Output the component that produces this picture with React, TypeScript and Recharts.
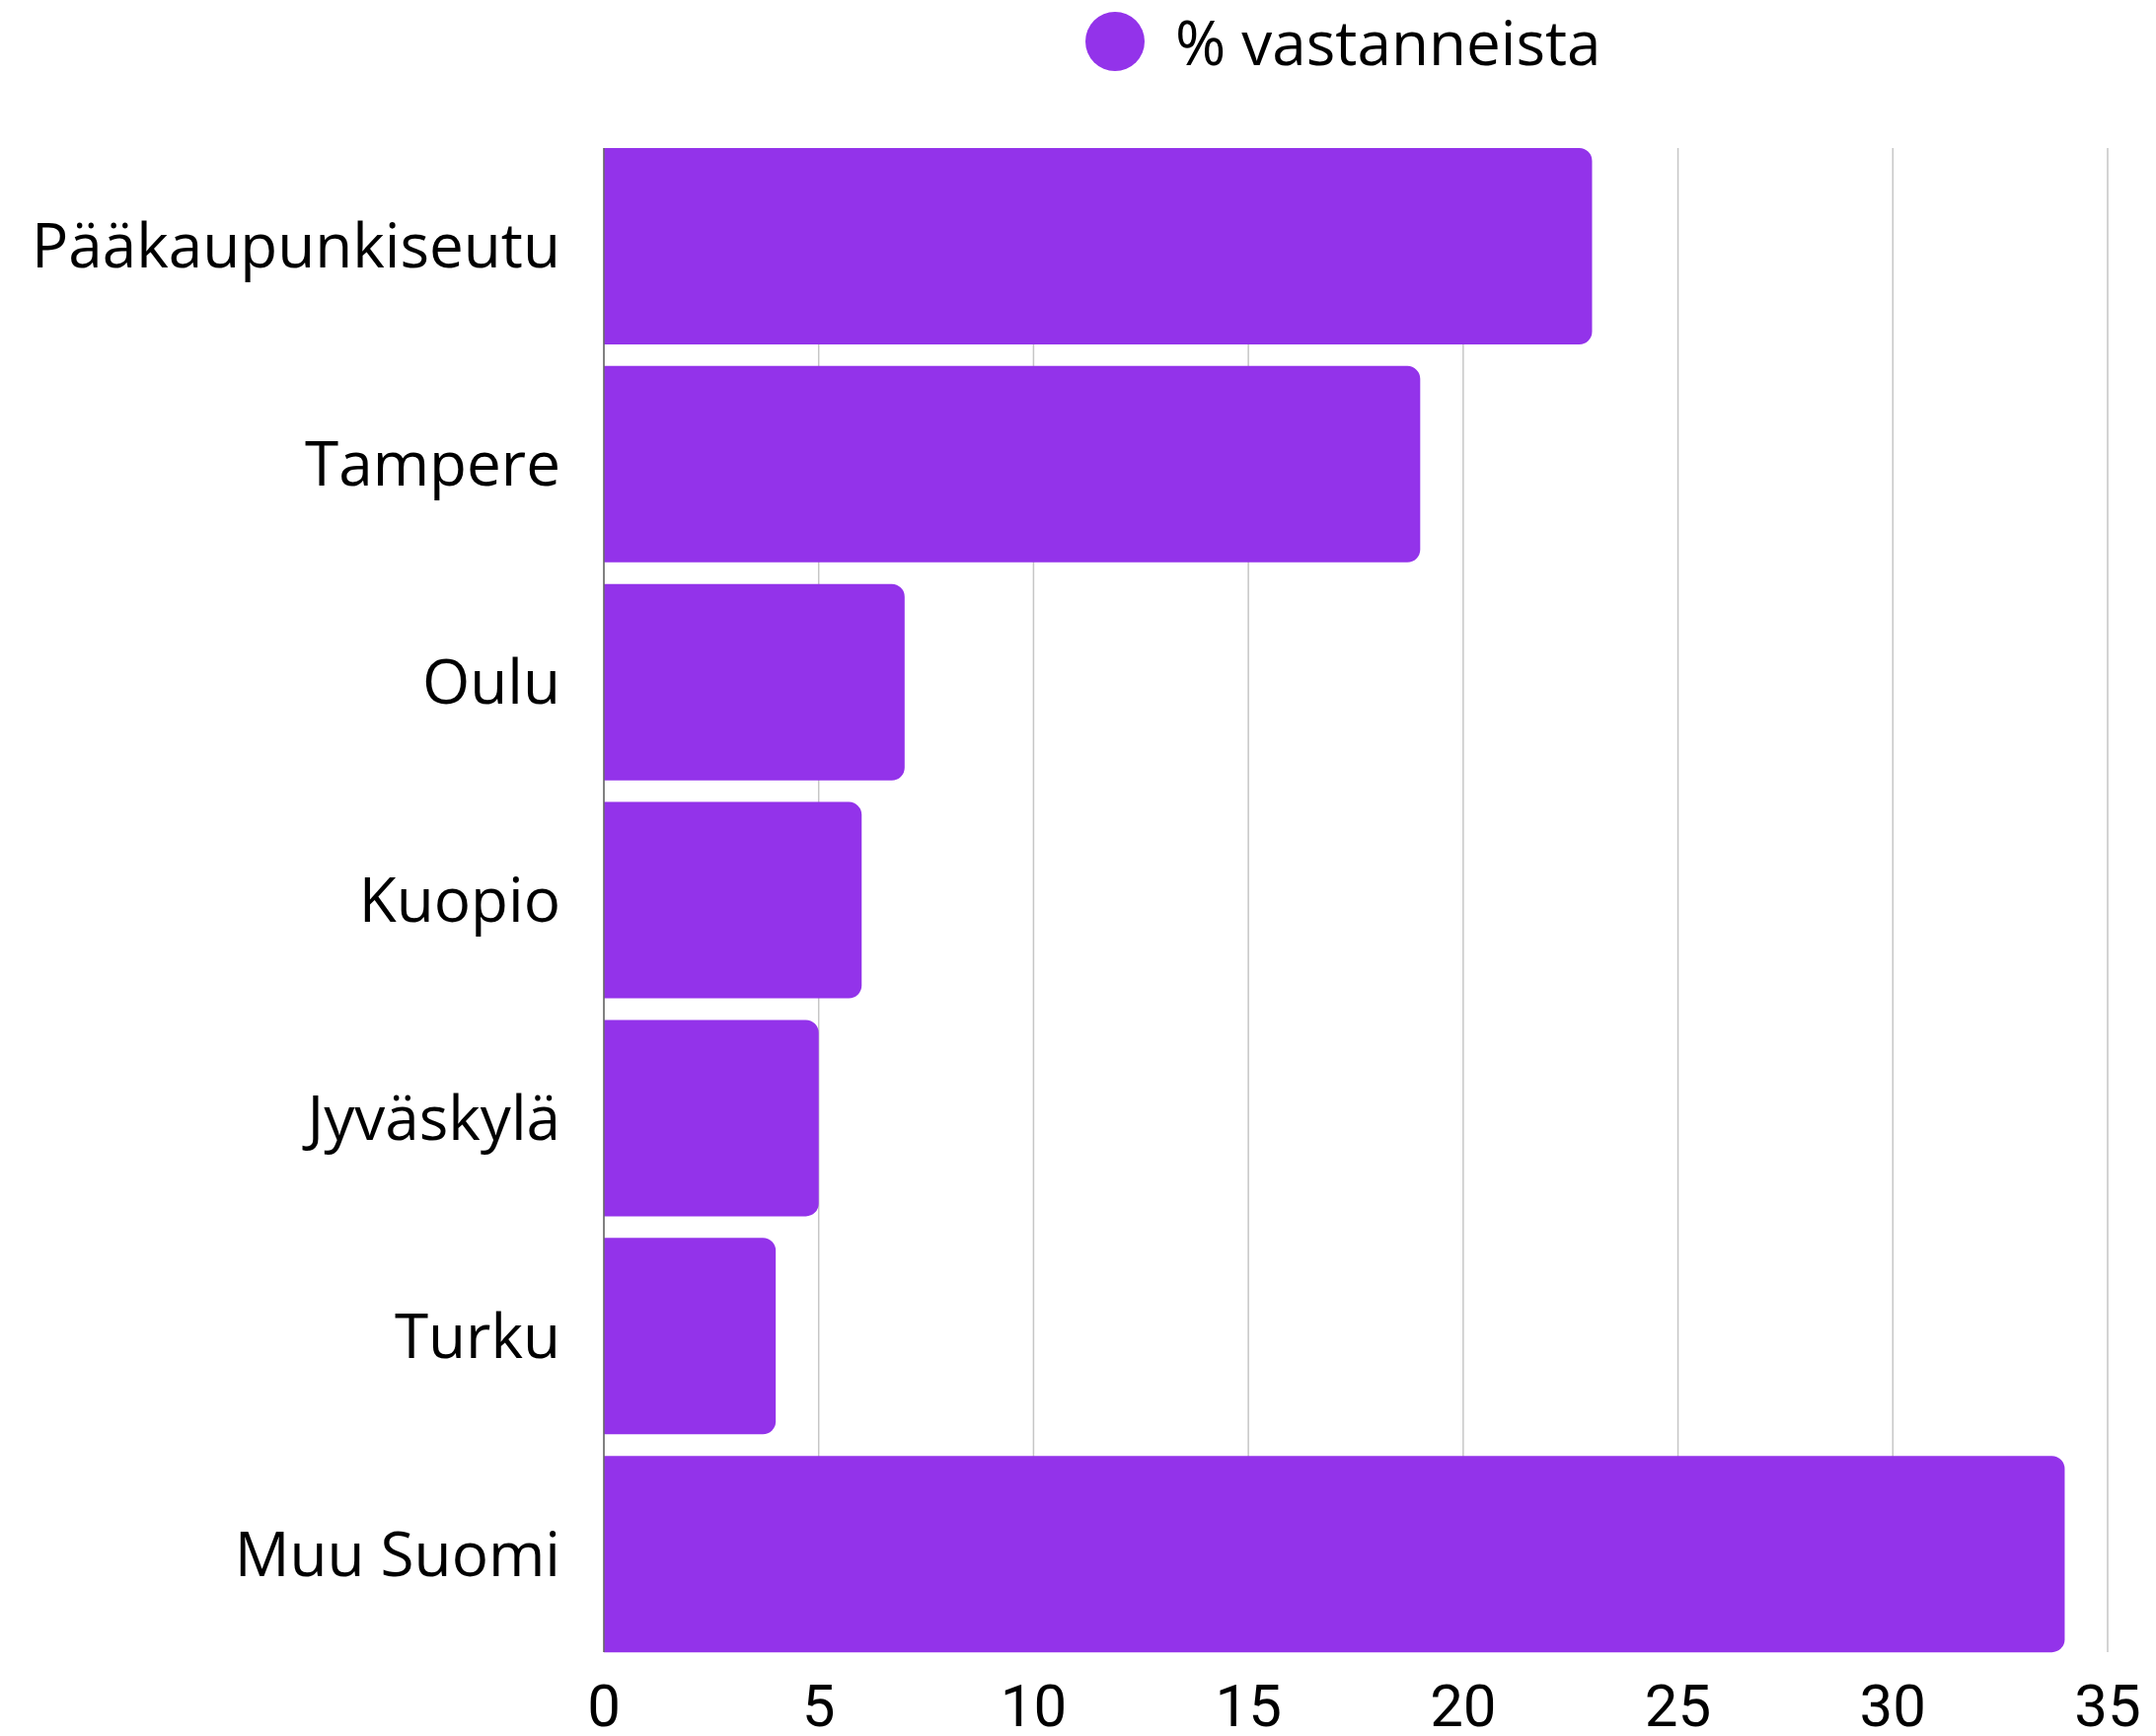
import React from 'react';
import { BarChart, Bar, XAxis, YAxis, CartesianGrid, Legend } from 'recharts';

const categories = ['Pääkaupunkiseutu', 'Tampere', 'Oulu', 'Kuopio', 'Jyväskylä', 'Turku', 'Muu Suomi'];
const values = [23, 19, 7, 6, 5, 4, 34];
const xTicks = [0, 5, 10, 15, 20, 25, 30, 35];
const seriesName = '% vastanneista';

const data = categories.map((name, i) => ({ name, value: values[i] }));

const PURPLE = '#9333EA';

const LegendContent = () => (
  <div style={{ height: 84, display: 'flex', alignItems: 'center', paddingLeft: 1100, boxSizing: 'border-box' }}>
    <svg width={60} height={60} style={{ display: 'block' }}>
      <circle cx={30} cy={30} r={30} fill={PURPLE} />
    </svg>
    <span style={{ marginLeft: 31, fontFamily: '"Open Sans"', fontSize: 62, color: '#000', lineHeight: '84px' }}>{seriesName}</span>
  </div>
);

export default function App() {
  return (
    <div style={{ position: 'absolute', left: 0, top: 0, width: 2185, height: 1759, background: '#fff' }}>
      <BarChart
        width={2185}
        height={1759}
        data={data}
        layout="vertical"
        margin={{ top: 66, right: 49, bottom: 25, left: 0 }}
        barCategoryGap={11}
      >
        <CartesianGrid horizontal={false} stroke="#c6c6c6" strokeWidth={1.5} />
        <XAxis
          type="number"
          domain={[0, 35]}
          ticks={xTicks}
          interval={0}
          axisLine={false}
          tickLine={false}
          tickMargin={26}
          height={60}
          tick={{ fontFamily: 'Roboto', fontSize: 60, fill: '#000' }}
        />
        <YAxis
          type="category"
          dataKey="name"
          width={612}
          interval={0}
          axisLine={{ stroke: '#666666', strokeWidth: 1.5 }}
          tickLine={false}
          tickMargin={38}
          padding={{ top: -11, bottom: -11 }}
          tick={{ fontFamily: '"Open Sans"', fontSize: 62, fill: '#000' }}
        />
        <Legend
          verticalAlign="top"
          align="left"
          content={() => <LegendContent />}
          wrapperStyle={{ top: 0, left: 0, width: 2185 }}
        />
        <Bar dataKey="value" name={seriesName} fill={PURPLE} radius={[0, 13, 13, 0]} isAnimationActive={false} />
      </BarChart>
    </div>
  );
}
